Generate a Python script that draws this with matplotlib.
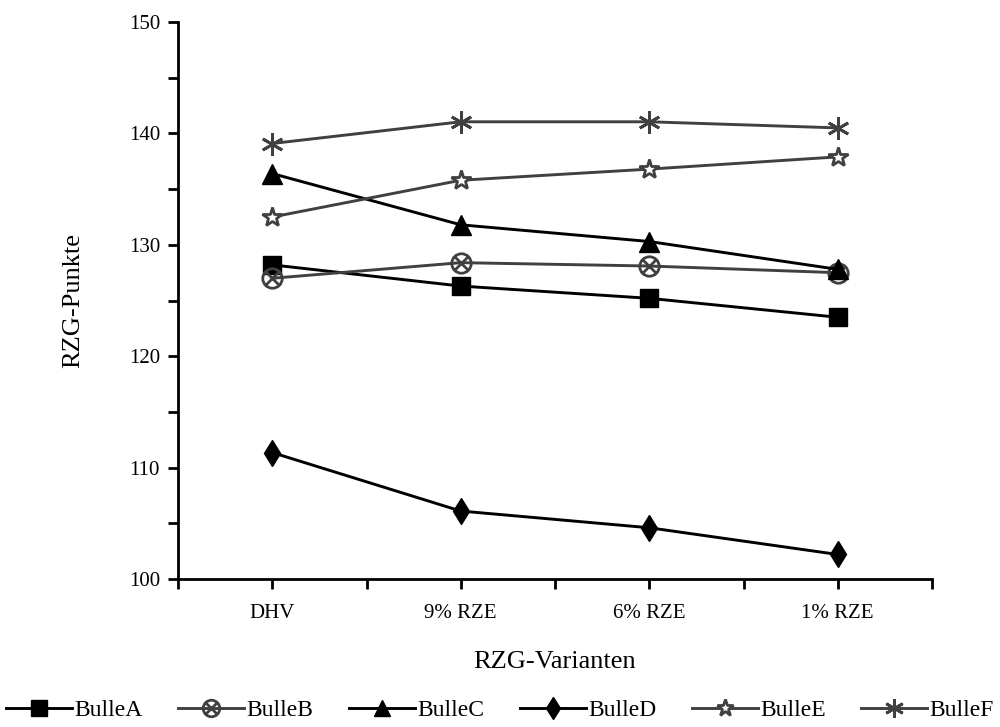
import matplotlib
matplotlib.use("Agg")
import matplotlib.pyplot as plt
from matplotlib.path import Path
from matplotlib.ticker import MultipleLocator
import numpy as np

plt.rcParams['font.family'] = ['Liberation Serif', 'DejaVu Serif']

categories = ["DHV", "9% RZE", "6% RZE", "1% RZE"]
bulle_a = [128.2, 126.3, 125.2, 123.5]
bulle_b = [127.0, 128.4, 128.1, 127.5]
bulle_c = [136.4, 131.8, 130.3, 127.8]
bulle_d = [111.35, 106.1, 104.6, 102.2]
bulle_e = [132.5, 135.8, 136.8, 137.9]
bulle_f = [139.1, 141.05, 141.05, 140.5]
series_names = ["BulleA", "BulleB", "BulleC", "BulleD", "BulleE", "BulleF"]

# circle with X marker
circ = Path.unit_circle()
d = 0.72
xpath = Path([[-d, -d], [d, d], [-d, d], [d, -d]],
             [Path.MOVETO, Path.LINETO, Path.MOVETO, Path.LINETO])
circle_x = Path.make_compound_path(circ, xpath)

fig = plt.figure(figsize=(10, 7.27), dpi=100)
ax = fig.add_axes([0.178, 0.2036, 0.754, 0.766])

x = np.arange(len(categories))
black = "#000000"
gray = "#404040"
lw = 2.1

ax.plot(x, bulle_a, color=black, lw=lw, marker='s', ms=13, mfc=black, mec=black, label=series_names[0], zorder=3)
ax.plot(x, bulle_b, color=gray, lw=lw, marker=circle_x, ms=14, mfc='none', mec=gray, mew=2, label=series_names[1], zorder=3)
ax.plot(x, bulle_c, color=black, lw=lw, marker='^', ms=14, mfc=black, mec=black, label=series_names[2], zorder=3)
ax.plot(x, bulle_d, color=black, lw=lw, marker='d', ms=13, mfc=black, mec=black, label=series_names[3], zorder=3)
ax.plot(x, bulle_e, color=gray, lw=lw, marker='*', ms=15, mfc='white', mec=gray, mew=2, label=series_names[4], zorder=3)
ax.plot(x, bulle_f, color=gray, lw=lw, marker=(6, 2, 0), ms=16, mec=gray, mew=2, label=series_names[5], zorder=3)

ax.set_xlim(-0.5, 3.5)
ax.set_ylim(100, 150)
ax.set_xticks(x)
ax.set_xticklabels(categories)
ax.xaxis.set_minor_locator(MultipleLocator(0.5))
ax.yaxis.set_major_locator(MultipleLocator(10))
ax.yaxis.set_minor_locator(MultipleLocator(5))

for s in ['top', 'right']:
    ax.spines[s].set_visible(False)
for s in ['left', 'bottom']:
    ax.spines[s].set_linewidth(2)

ax.tick_params(axis='both', which='both', direction='out', width=2, length=7, labelsize=15)
ax.tick_params(axis='x', which='major', pad=11)
ax.tick_params(axis='y', which='major', pad=6)

ax.set_xlabel("RZG-Varianten", fontsize=19, labelpad=20)
ax.set_ylabel("RZG-Punkte", fontsize=19, labelpad=32)

fig.legend(loc='lower center', bbox_to_anchor=(0.5, -0.015), ncol=6, frameon=False,
           fontsize=17, handlelength=2.8, columnspacing=1.5, handletextpad=0.1,
           markerscale=0.85, borderaxespad=0.3)

fig.savefig("out.png", dpi=100)
